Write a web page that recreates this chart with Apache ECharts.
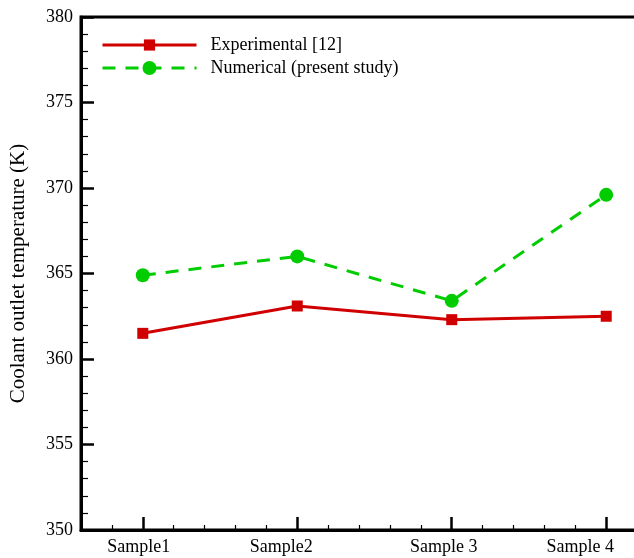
<!DOCTYPE html>
<html>
<head>
<meta charset="utf-8">
<script src="https://cdn.jsdelivr.net/npm/echarts@6/dist/echarts.min.js"></script>
<style>
  html, body { margin: 0; padding: 0; background: #fff; overflow: hidden; }
  /* the plot box runs past the right edge of the page */
  #chart { width: 680px; height: 558px; }
</style>
</head>
<body>
<div id="chart"></div>
<script>
// Samples along the x axis (placed at 1..4 on a value axis)
const sampleLabels = ['Sample1', 'Sample2', 'Sample 3', 'Sample 4'];
const samplePos = [1, 2, 3, 4];
// Coolant outlet temperature (K)
const experimental = [361.5, 363.1, 362.3, 362.5];
const numerical = [364.9, 366.0, 363.4, 369.6];
// Y axis tick values
const yMin = 350, yMax = 380, yStep = 5;
// Minor tick positions on x
const xMinorTicks = [0.8, 1.2, 1.4, 1.6, 1.8, 2.2, 2.4, 2.6, 2.8, 3.2, 3.4, 3.6, 3.8, 4.2];

const FONT = "'Liberation Serif', 'Times New Roman', serif";
const pairs = vals => vals.map((v, i) => [samplePos[i], v]);

// sample names sit a little left of their ticks (pixels)
const labelNudge = [4, 16, 8, 26];
const labelRich = {};
labelNudge.forEach((n, i) => {
  labelRich['s' + i] = { fontFamily: FONT, fontSize: 18, color: '#000', padding: [0, 2 * n, 0, 0] };
});

const legendText = { fontFamily: FONT, fontSize: 18, color: '#000', padding: [0, 0, 0, 9] };

const chart = echarts.init(document.getElementById('chart'), null, { renderer: 'canvas' });
chart.setOption({
  animation: false,
  backgroundColor: '#ffffff',
  grid: {
    left: 79, top: 17, right: 12, bottom: 28,
    show: true, borderColor: '#000', borderWidth: 3, backgroundColor: 'transparent'
  },
  legend: [{
    left: 101, top: 36, padding: 0,
    itemWidth: 94, itemHeight: 14,
    lineStyle: { width: 3 },
    textStyle: legendText,
    data: ['Experimental [12]']
  }, {
    left: 101, top: 59, padding: 0,
    itemWidth: 94, itemHeight: 17.5,
    lineStyle: { width: 3 },
    textStyle: legendText,
    data: ['Numerical (present study)']
  }],
  xAxis: [{
    type: 'value', min: 0.6, max: 4.4,
    axisLine: { show: true, lineStyle: { color: '#000', width: 3 } },
    axisTick: { show: true, inside: true, length: 13, lineStyle: { color: '#000', width: 2.5 }, customValues: samplePos },
    axisLabel: {
      show: true, customValues: samplePos, margin: 8,
      fontFamily: FONT, fontSize: 18, color: '#000',
      rich: labelRich,
      formatter: v => {
        const i = samplePos.indexOf(Math.round(v));
        return i < 0 ? '' : '{s' + i + '|' + sampleLabels[i] + '}';
      }
    },
    splitLine: { show: false }
  }, {
    type: 'value', min: 0.6, max: 4.4, position: 'bottom',
    axisLine: { show: false },
    axisTick: { show: true, inside: true, length: 5, lineStyle: { color: '#000', width: 1.2 }, customValues: xMinorTicks },
    axisLabel: { show: false },
    splitLine: { show: false }
  }],
  yAxis: {
    type: 'value', min: yMin, max: yMax, interval: yStep,
    name: 'Coolant outlet temperature (K)',
    nameLocation: 'middle', nameGap: 52, nameRotate: 90,
    nameTextStyle: { fontFamily: FONT, fontSize: 21, color: '#000' },
    axisLine: { show: true, lineStyle: { color: '#000', width: 3 } },
    axisTick: { show: true, inside: true, length: 13, lineStyle: { color: '#000', width: 2.5 } },
    minorTick: { show: true, splitNumber: 5, length: 7, lineStyle: { color: '#000', width: 1.2 } },
    axisLabel: { fontFamily: FONT, fontSize: 18, color: '#000', margin: 8 },
    splitLine: { show: false }
  },
  series: [{
    name: 'Experimental [12]', type: 'line', xAxisIndex: 0,
    data: pairs(experimental),
    symbol: 'rect', symbolSize: 11, showSymbol: true,
    itemStyle: { color: '#d00000' },
    lineStyle: { color: '#d00000', width: 3 },
    z: 3
  }, {
    name: 'Numerical (present study)', type: 'line', xAxisIndex: 0,
    data: pairs(numerical),
    symbol: 'circle', symbolSize: 14, showSymbol: true,
    itemStyle: { color: '#00cc00' },
    lineStyle: { color: '#00cc00', width: 3, type: [13, 10] },
    z: 4
  }]
});
</script>
</body>
</html>
